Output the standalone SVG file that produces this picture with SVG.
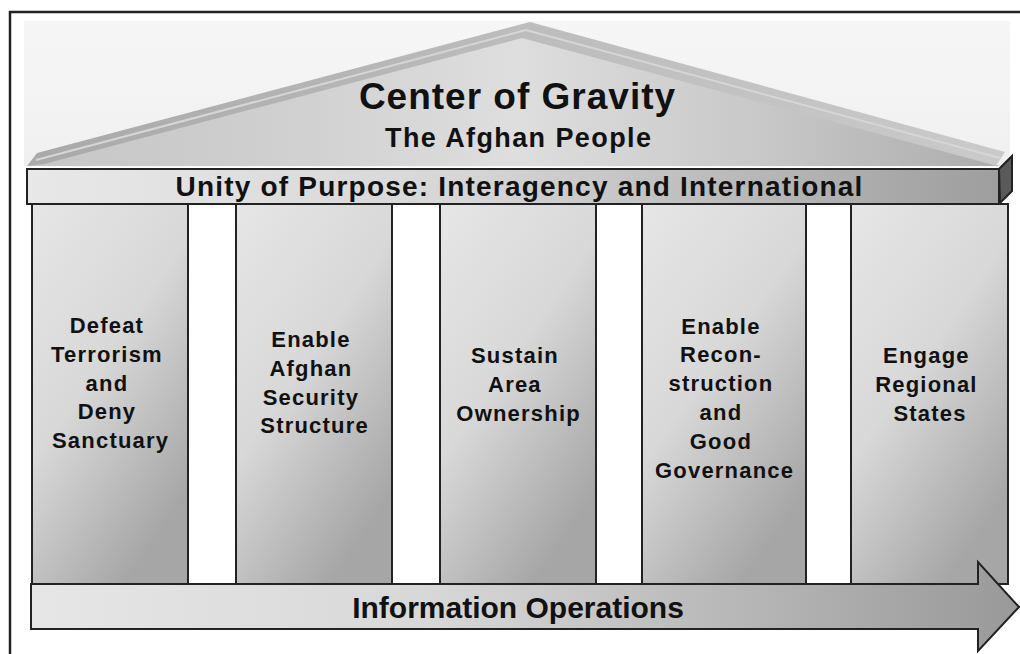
<svg xmlns="http://www.w3.org/2000/svg" width="1020" height="654" viewBox="0 0 1020 654">
  <defs>
    <linearGradient id="gHaze" x1="0" y1="0" x2="0" y2="1">
      <stop offset="0" stop-color="#f6f6f6"/>
      <stop offset="1" stop-color="#f0f0f0"/>
    </linearGradient>
    <linearGradient id="gRoofFace" gradientUnits="userSpaceOnUse" x1="27" y1="0" x2="1005" y2="0">
      <stop offset="0" stop-color="#c6c6c6"/>
      <stop offset="0.25" stop-color="#cfcfcf"/>
      <stop offset="0.5" stop-color="#dedede"/>
      <stop offset="0.75" stop-color="#c8c8c8"/>
      <stop offset="1" stop-color="#acacac"/>
    </linearGradient>
    <linearGradient id="gRoofEdge" gradientUnits="userSpaceOnUse" x1="27" y1="0" x2="1005" y2="0">
      <stop offset="0" stop-color="#a9a9a9"/>
      <stop offset="0.5" stop-color="#bcbcbc"/>
      <stop offset="1" stop-color="#cacaca"/>
    </linearGradient>
    <linearGradient id="gBeam" gradientUnits="userSpaceOnUse" x1="27" y1="0" x2="999" y2="0">
      <stop offset="0" stop-color="#e8e8e8"/>
      <stop offset="0.45" stop-color="#d6d6d6"/>
      <stop offset="1" stop-color="#9e9e9e"/>
    </linearGradient>
    <linearGradient id="gPillar" x1="0" y1="0" x2="0.6" y2="1">
      <stop offset="0" stop-color="#e6e6e6"/>
      <stop offset="0.5" stop-color="#d8d8d8"/>
      <stop offset="1" stop-color="#a6a6a6"/>
    </linearGradient>
    <linearGradient id="gArrow" gradientUnits="userSpaceOnUse" x1="31" y1="0" x2="1020" y2="0">
      <stop offset="0" stop-color="#e6e6e6"/>
      <stop offset="0.4" stop-color="#d8d8d8"/>
      <stop offset="1" stop-color="#999999"/>
    </linearGradient>
    <style>
      .frame { fill: none; stroke: #222; stroke-width: 2.5; }
      .edge { stroke: #222; stroke-width: 2; }
      .pillar { fill: url(#gPillar); stroke: #222; stroke-width: 2; }
      .t { font-family: "Liberation Sans", Arial, sans-serif; font-weight: bold; fill: #111; text-anchor: middle; }
      .title { font-size: 37px; letter-spacing: 1px; }
      .sub { font-size: 27px; letter-spacing: 1.4px; }
      .band { font-size: 28px; letter-spacing: 1.2px; }
      .col { font-size: 22px; letter-spacing: 1.2px; }
      .io { font-size: 30px; }
    </style>
  </defs>

  <!-- outer frame (open on the right and bottom) -->
  <path class="frame" d="M10 654 V12 H1020"/>

  <!-- roof / pediment -->
  <g id="roof">
    <rect x="24" y="21" width="986" height="145" fill="url(#gHaze)"/>
    <polygon points="27,166 530,28 1000,166" fill="url(#gRoofFace)"/>
    <polygon points="27,166 37,153 530,22 1005,152 996,166 990,164 522,38 44,164" fill="url(#gRoofEdge)"/>
    <polyline points="36,160 526,30 1000,158" fill="none" stroke="#d6d6d6" stroke-width="2"/>
    <line x1="30" y1="166.5" x2="998" y2="166.5" stroke="#f2f2f2" stroke-width="1.2" stroke-dasharray="1.5 1.5"/>
    <text class="t title" x="517.5" y="109">Center of Gravity</text>
    <text class="t sub" x="518.7" y="147">The Afghan People</text>
  </g>

  <!-- unity of purpose beam -->
  <g id="beam">
    <polygon points="999,169 1012,156 1012,191 1000,203" fill="#5a5a5a" class="edge"/>
    <rect x="27" y="169" width="972" height="35" fill="url(#gBeam)" class="edge"/>
    <text class="t band" x="519.6" y="196">Unity of Purpose: Interagency and International</text>
  </g>

  <!-- pillars -->
  <g id="pillar-defeat-terrorism">
    <rect class="pillar" x="32" y="204" width="156" height="380"/>
    <text class="t col" x="110.6" y="333">
      <tspan x="110.6">Defeat</tspan>
      <tspan x="110.6" dy="28.8">Terrorism</tspan>
      <tspan x="110.6" dy="28.8">and</tspan>
      <tspan x="110.6" dy="28.8">Deny</tspan>
      <tspan x="110.6" dy="28.8">Sanctuary</tspan>
    </text>
  </g>
  <g id="pillar-afghan-security">
    <rect class="pillar" x="236" y="204" width="156" height="380"/>
    <text class="t col" x="314.6" y="347">
      <tspan x="314.6">Enable</tspan>
      <tspan x="314.6" dy="28.8">Afghan</tspan>
      <tspan x="314.6" dy="28.8">Security</tspan>
      <tspan x="314.6" dy="28.8">Structure</tspan>
    </text>
  </g>
  <g id="pillar-area-ownership">
    <rect class="pillar" x="440" y="204" width="156" height="380"/>
    <text class="t col" x="518.6" y="363">
      <tspan x="518.6">Sustain</tspan>
      <tspan x="518.6" dy="28.8">Area</tspan>
      <tspan x="518.6" dy="28.8">Ownership</tspan>
    </text>
  </g>
  <g id="pillar-reconstruction">
    <rect class="pillar" x="642" y="204" width="164" height="380"/>
    <text class="t col" x="724.6" y="333.5">
      <tspan x="724.6">Enable</tspan>
      <tspan x="724.6" dy="28.8">Recon-</tspan>
      <tspan x="724.6" dy="28.8">struction</tspan>
      <tspan x="724.6" dy="28.8">and</tspan>
      <tspan x="724.6" dy="28.8">Good</tspan>
      <tspan x="724.6" dy="28.8">Governance</tspan>
    </text>
  </g>
  <g id="pillar-regional-states">
    <rect class="pillar" x="851" y="204" width="157" height="380"/>
    <text class="t col" x="930.1" y="363">
      <tspan x="930.1">Engage</tspan>
      <tspan x="930.1" dy="28.8">Regional</tspan>
      <tspan x="930.1" dy="28.8">States</tspan>
    </text>
  </g>

  <!-- information operations base arrow -->
  <g id="information-operations">
    <polygon points="31,584 978,584 978,562 1019,607 978,651 978,629 31,629" fill="url(#gArrow)" class="edge" stroke-linejoin="miter"/>
    <text class="t io" x="518" y="618">Information Operations</text>
  </g>
</svg>
